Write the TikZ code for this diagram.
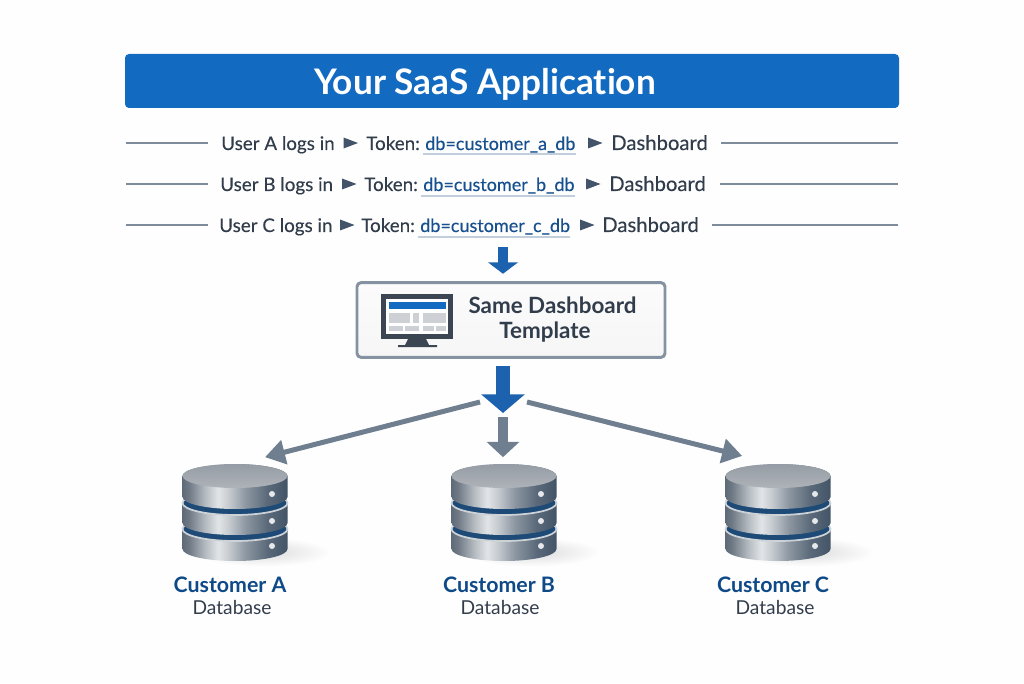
\documentclass[tikz,border=0pt]{standalone}
\usepackage{fontspec}
\setmainfont[Ligatures=NoCommon]{Lato}
\newfontfamily\midfont[Ligatures=NoCommon,FakeBold=0.25]{Lato}
\usetikzlibrary{arrows.meta,calc,shadings}

\definecolor{barblue}{HTML}{126AC1}
\definecolor{flowblue}{HTML}{1C62AE}
\definecolor{slatearrow}{HTML}{6F7F8F}
\definecolor{ruleline}{HTML}{7E8B9A}
\definecolor{inktext}{HTML}{323D4C}
\definecolor{tokenblue}{HTML}{16508F}
\definecolor{underl}{HTML}{C3CEDD}
\definecolor{tri}{HTML}{43546A}
\definecolor{navy}{HTML}{0F4A88}
\definecolor{boxedge}{HTML}{8492A1}
\definecolor{gapblue}{HTML}{1D4A76}
\definecolor{screenink}{HTML}{3C4653}
\definecolor{rimlight}{HTML}{CDD2D7}
\definecolor{dotlight}{HTML}{E6E8EA}
\definecolor{platetop}{HTML}{959CA5}
\definecolor{platelow}{HTML}{AEB3B9}
\definecolor{panelgray}{HTML}{CDD0D4}

\definecolor{m1}{HTML}{5F6B78}
\definecolor{m2}{HTML}{6E7985}
\definecolor{m3}{HTML}{B6BCC2}
\definecolor{m4}{HTML}{E2E5E7}
\definecolor{m5}{HTML}{C6CBD0}
\definecolor{m6}{HTML}{8D97A2}
\definecolor{m7}{HTML}{5C6B7B}
\definecolor{m8}{HTML}{425467}
\pgfdeclarehorizontalshading{metal}{100bp}{
  color(0bp)=(m1); color(25bp)=(m1); color(28bp)=(m2); color(36bp)=(m3);
  color(42bp)=(m4); color(47bp)=(m5); color(55bp)=(m6); color(65bp)=(m7);
  color(75bp)=(m8); color(100bp)=(m8)}

\tikzset{
  x=0.75pt, y=0.75pt,
  rowtext/.style={anchor=base west, inner sep=0pt, font=\midfont\fontsize{14.1}{16}\selectfont, text=inktext},
  dashtext/.style={rowtext, font=\midfont\fontsize{15.2}{16}\selectfont},
  dbtext/.style={rowtext, font=\midfont\fontsize{13.5}{16}\selectfont, text=tokenblue},
  hairline/.style={ruleline, line width=1.5pt},
  tokenrule/.style={underl, line width=0.9pt},
  bluearrow/.style={flowblue, line width=#1},
  slatebar/.style={slatearrow, line width=#1},
  custname/.style={inner sep=0pt, anchor=base, font=\fontsize{16}{18}\selectfont\bfseries, text=navy},
  custsub/.style={inner sep=0pt, anchor=base, font=\fontsize{14.4}{15}\selectfont, text=inktext},
  slot/.style={draw=none, fill=none, inner sep=0pt, minimum width=79.5pt, minimum height=71pt},
  paneltext/.style={inner sep=0pt, anchor=base, text=inktext, font=\fontsize{16.8}{18.8}\selectfont\bfseries},
}

% one login row: text baseline, underline y, label letter, lower-case letter, then x positions
\newcommand{\flowrow}[9]{%
  \node[rowtext] (user#3) at (#5,683-#1) {User #3 logs in};
  \node[rowtext] (token#3) at (#7,683-#1) {Token:};
  \node[dbtext] (db#3) at (#8,683-#1) {db=customer\_#4\_db};
  \node[dashtext] (dash#3) at (#9,683-#1) {Dashboard};
  \draw[tokenrule] ($(db#3.west |- 0,683-#2)+(-2,0)$) -- (db#3.east |- 0,683-#2);
}
\newcommand{\rowtri}[2]{%
  \fill[tri] (#1,683-#2-5.5) -- ++(0,11) -- ++(14.5,-5.5) -- cycle;
}

% one platter of the database stack
\newcommand{\platter}[4]{% centre x, y of top centre, side height, top style
  \shade[shading=metal] (#1-52.5,683-#2) -- ++(0,-#3) arc (180:360:52.5 and 12) -- ++(0,#3) arc (0:180:52.5 and 12) -- cycle;
  \draw[#4] (#1,683-#2) ellipse (52.5 and 12);
}
\newcommand{\dbstack}[1]{%
  \shade[inner color=black!14, outer color=white] (#1+28,683-552) ellipse (70 and 15);
  \platter{#1}{529}{20}{fill=gapblue, draw=rimlight, line width=1.3pt}
  \platter{#1}{503}{20}{fill=gapblue, draw=rimlight, line width=1.3pt}
  \platter{#1}{476}{21}{top color=platetop, bottom color=platelow, draw=none}
  \fill[dotlight] (#1+37,683-494) circle (3);
  \fill[dotlight] (#1+37,683-521) circle (3);
  \fill[dotlight] (#1+37,683-546) circle (3);
}

\begin{document}
\begin{tikzpicture}
\useasboundingbox (0,0) rectangle (1024,683);
\fill[white!99!gray] (0,0) rectangle (1024,683);

% application banner
\node[fill=barblue, rounded corners=3pt, inner sep=0pt, minimum width=580.5pt, minimum height=40.5pt] (banner) at (512,683-81) {};
\node[inner sep=0pt, anchor=base, text=white, font=\fontsize{26.4}{28}\selectfont\bfseries] (bannertext) at (485,683-94.5) {Your SaaS Application};

% login rows
\flowrow{150}{154}{A}{a}{221}{343.5}{366}{425}{611}
\flowrow{191}{196}{B}{b}{220}{342}{364}{423}{609}
\flowrow{232}{237}{C}{c}{219}{340}{361}{420}{602}
\rowtri{343.5}{143}
\rowtri{342}{184}
\rowtri{340}{225}
\rowtri{588}{143}
\rowtri{586}{184}
\rowtri{580}{225}

\coordinate (la) at (126,683-143); \coordinate (lb) at (126,683-184); \coordinate (lc) at (126,683-225);
\coordinate (ra) at (898,683-143); \coordinate (rb) at (898,683-184); \coordinate (rc) at (898,683-225);
\draw[hairline] (la) -- ++(82,0);
\draw[hairline] (lb) -- ++(82,0);
\draw[hairline] (lc) -- ++(82,0);
\draw[hairline] (ra) -- ++(-177,0);
\draw[hairline] (rb) -- ++(-178,0);
\draw[hairline] (rc) -- ++(-186,0);

% template panel
\node[draw=boxedge, line width=2.2pt, rounded corners=3pt, top color=white!97!gray, bottom color=white!93!gray,
      inner sep=0pt, minimum width=231pt, minimum height=56pt] (tmpl) at (511,683-320) {};
\node[paneltext] (tmplone) at (552.5,683-313.5) {Same Dashboard};
\node[paneltext] (tmpltwo) at (545,683-338.5) {Template};

% monitor icon
\fill[screenink] (381,683-294) rectangle (453,683-339);
\fill[white] (386,683-299) rectangle (448,683-334);
\fill[barblue] (389,683-302) rectangle (446,683-309);
\fill[panelgray] (389,683-313) rectangle (410,683-323);
\fill[panelgray] (413,683-313) rectangle (419,683-323);
\fill[panelgray] (423,683-313) rectangle (446,683-323);
\fill[panelgray] (389,683-326) rectangle (403,683-331);
\fill[panelgray] (405,683-326) rectangle (419,683-331);
\fill[panelgray] (423,683-326) rectangle (434,683-331);
\fill[panelgray] (436,683-326) rectangle (446,683-331);
\fill[screenink] (408,683-339) -- (426,683-339) -- (429,683-345) -- (437,683-345) -- (437,683-347) -- (398,683-347) -- (398,683-345) -- (405,683-345) -- cycle;

% database stacks
\dbstack{235}
\dbstack{504}
\dbstack{778}
\node[slot] (custA) at (235,683-512.5) {};
\node[slot] (custB) at (504,683-512.5) {};
\node[slot] (custC) at (778,683-512.5) {};

\node[custname] (nameA) at (230,683-592) {Customer A};
\node[custname] (nameB) at (499,683-592) {Customer B};
\node[custname] (nameC) at (773,683-592) {Customer C};
\node[custsub] (subA) at (232,683-614) {Database};
\node[custsub] (subB) at (500,683-614) {Database};
\node[custsub] (subC) at (775,683-614) {Database};

% connectors
\coordinate (flowin) at (503,683-247);
\coordinate (fan) at (503,683-366);
\coordinate (fanl) at (480,683-402);
\coordinate (fanr) at (527,683-402);
\coordinate (fanm) at (503,683-417);
\draw[bluearrow=7.5pt, -{Triangle[length=8.5pt,width=22pt]}, shorten >=5.6pt] (flowin) -- (tmpl.north -| flowin);
\draw[bluearrow=10pt, -{Triangle[length=14pt,width=32pt]}] (fan) -- (503,683-413);
\draw[slatebar=7.5pt, -{Triangle[length=11.5pt,width=24pt]}, shorten >=5.8pt] (fanm) -- (custB.north -| fanm);
\draw[slatebar=3.75pt, -{Triangle[length=15pt,width=18pt]}, shorten >=23.2pt] (fanl) -- (custA.north);
\draw[slatebar=3.75pt, -{Triangle[length=15pt,width=18pt]}, shorten >=27.7pt] (fanr) -- (custC.north);
\end{tikzpicture}
\end{document}
